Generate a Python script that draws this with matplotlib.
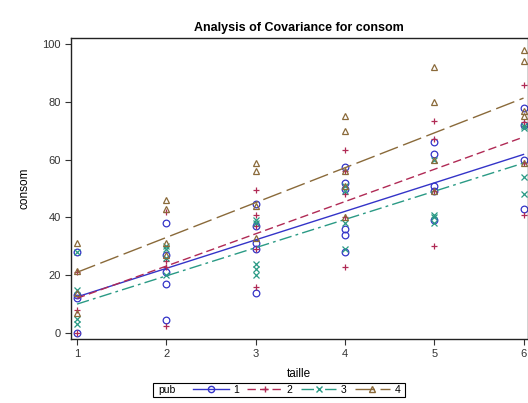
import matplotlib
matplotlib.use("Agg")
import matplotlib.pyplot as plt
from matplotlib.lines import Line2D
from matplotlib.patches import Rectangle

plt.rcParams['font.family'] = ['Liberation Sans', 'DejaVu Sans']

# ---- data ----
groups = ['1', '2', '3', '4']
taille_ticks = [1, 2, 3, 4, 5, 6]
y_ticks = [0, 20, 40, 60, 80, 100]

# observations per group: (taille, consom)
g1_taille = [1, 1, 1, 1, 2, 2, 2, 2, 2, 3, 3, 3, 3, 3, 4, 4, 4, 4, 4, 4, 5, 5, 5, 5, 5, 6, 6, 6, 6]
g1_consom = [28, 13, 12, 0, 38, 27, 21, 17, 4.5, 44.5, 37, 31, 29, 14, 57.5, 52, 50, 36, 34, 28, 66, 62, 51, 49, 39, 78, 72, 60, 43]

g2_taille = [1, 1, 1, 2, 2, 2, 2, 3, 3, 3, 3, 3, 4, 4, 4, 4, 4, 5, 5, 5, 5, 6, 6, 6, 6, 6]
g2_consom = [21, 8, 0, 42, 25, 23, 2.5, 49.5, 41, 37, 29, 16, 63.5, 56, 48, 40, 23, 73.5, 67, 49, 30, 86, 73, 71.5, 59, 41]

g3_taille = [1, 1, 1, 1, 2, 2, 2, 2, 3, 3, 3, 3, 3, 4, 4, 4, 4, 5, 5, 5, 5, 6, 6, 6, 6]
g3_consom = [28, 15, 5, 3, 30, 29, 26, 20, 39, 38, 24, 22, 20, 51, 49, 38, 29, 60, 41, 40, 38, 71.5, 71, 54, 48]

g4_taille = [1, 1, 1, 1, 2, 2, 2, 2, 3, 3, 3, 3, 4, 4, 4, 4, 4, 5, 5, 5, 5, 6, 6, 6, 6, 6]
g4_consom = [31, 21.5, 14, 7, 46, 43, 31, 27, 59, 56, 44, 33, 75, 70, 56, 51, 40, 92, 80, 60, 49, 98, 94, 77, 75, 59]

# fitted lines (consom at taille=1 and taille=6)
fit_at_1 = [12.5, 12.0, 10.0, 21.0]
fit_at_6 = [61.8, 67.8, 58.8, 81.3]

# ---- style ----
colors = ['#3434C8', '#B02A55', '#2A9A85', '#8A6A3A']
markers = ['o', '+', 'x', '^']
linestyles = ['-', (0, (6, 3)), (0, (9, 3, 2, 3)), (0, (14, 4))]

fig = plt.figure(figsize=(5.28, 4.03), dpi=100)
ax = fig.add_axes([71 / 528, 1 - 339 / 403, (527.5 - 71) / 528, (339 - 38) / 403])

data = [(g1_taille, g1_consom), (g2_taille, g2_consom),
        (g3_taille, g3_consom), (g4_taille, g4_consom)]

for i, (xs, ys) in enumerate(data):
    c = colors[i]
    ax.plot(xs, ys, linestyle='none', marker=markers[i], markersize=4.8,
            markerfacecolor='none', markeredgecolor=c, markeredgewidth=0.9)
    ax.plot([1, 6], [fit_at_1[i], fit_at_6[i]], color=c, linewidth=1.0,
            linestyle=linestyles[i])

ax.set_xlim(1 - 6 / 89.6, 6 + 4 / 89.6)
ax.set_ylim(-2.08, 102.1)
ax.set_xticks(taille_ticks)
ax.set_yticks(y_ticks)
ax.tick_params(labelsize=8, length=4, width=0.8, direction='out', colors='#333333')
for s in ax.spines.values():
    s.set_linewidth(1.0)
    s.set_color('#222222')

ax.set_title('Analysis of Covariance for consom', fontsize=9, fontweight='bold', pad=5)
ax.set_xlabel('taille', fontsize=8.5, labelpad=6)
ax.set_ylabel('consom', fontsize=8.5, labelpad=8)

# legend at the bottom: group entries + "pub" label inside one frame
leg_handles = [
    Line2D([0, 0.5, 1], [0, 0, 0], color=colors[i], linewidth=1.0,
           linestyle=linestyles[i], marker=markers[i], markersize=4.5,
           markerfacecolor='none', markeredgecolor=colors[i], markevery=[1])
    for i in range(4)]
leg = fig.legend(leg_handles, groups, loc='center', bbox_to_anchor=(0.562, 0.032),
                 ncol=4, fontsize=7.5, frameon=False,
                 handlelength=3.4, handletextpad=0.4, columnspacing=0.8,
                 borderpad=0.2)

fig.canvas.draw()
bb = leg.get_window_extent().transformed(fig.transFigure.inverted())
pub_w = 38 / 528
x0 = bb.x0 - pub_w
yc = (bb.y0 + bb.y1) / 2
hh = 14 / 403
fig.add_artist(Rectangle((x0, yc - hh / 2), bb.x1 + 3 / 528 - x0, hh,
                         transform=fig.transFigure, fill=False,
                         edgecolor='black', linewidth=0.8))
fig.text(x0 + 5 / 528, yc, 'pub', fontsize=7.5, ha='left', va='center')

fig.savefig('out.png', dpi=100, facecolor='white')
